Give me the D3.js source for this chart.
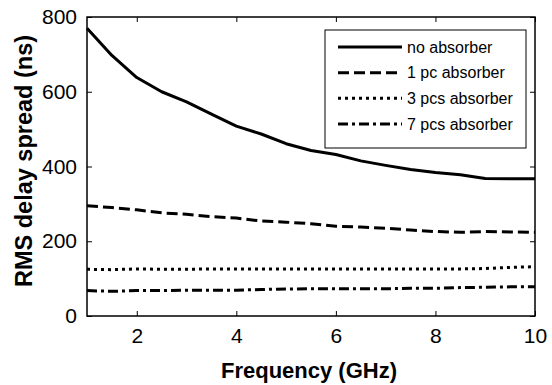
<!DOCTYPE html>
<html>
<head>
<meta charset="utf-8">
<script src="https://cdn.jsdelivr.net/npm/d3@7"></script>
<style>
  body { margin: 0; background: #fff; }
  text { font-family: "Liberation Sans", Arial, Helvetica, sans-serif; }
</style>
</head>
<body>
<div id="chart"></div>
<script>
// Data
var freq = [1, 1.5, 2, 2.5, 3, 3.5, 4, 4.5, 5, 5.5, 6, 6.5, 7, 7.5, 8, 8.5, 9, 9.5, 10];
var noAbsorber = [770, 697, 638, 600, 573, 540, 508, 487, 461, 443, 432, 415, 403, 392, 384, 378, 368, 367, 367];
var onePc      = [295, 290, 284, 276, 272, 266, 262, 254, 251, 247, 240, 238, 235, 230, 226, 224, 226, 225, 224];
var threePcs   = [125, 124, 126, 125, 125, 126, 126, 126, 126, 126, 126, 126, 126, 126, 126, 126, 127, 130, 132];
var sevenPcs   = [68, 66, 68, 68, 69, 69, 69, 71, 72, 73, 73, 73, 73, 74, 74, 76, 77, 78, 78];
var seriesNames = ["no absorber", "1 pc absorber", "3 pcs absorber", "7 pcs absorber"];
var xTicks = [2, 4, 6, 8, 10];
var yTicks = [0, 200, 400, 600, 800];

var W = 552, H = 385;
var plotL = 87, plotR = 535, plotT = 17, plotB = 316;

var svg = d3.select("#chart").append("svg")
    .attr("width", W)
    .attr("height", H);

var x = d3.scaleLinear().domain([1, 10]).range([plotL, plotR]);
var y = d3.scaleLinear().domain([0, 800]).range([plotB, plotT]);

var dashes = [null, "11,5", "3,4", "10,4,3,4"];
var allSeries = [noAbsorber, onePc, threePcs, sevenPcs];

// plot lines
var line = d3.line()
    .x(function(d, i) { return x(freq[i]); })
    .y(function(d) { return y(d); });

allSeries.forEach(function(s, k) {
    svg.append("path")
        .attr("d", line(s))
        .attr("fill", "none")
        .attr("stroke", "#000")
        .attr("stroke-width", 3)
        .attr("stroke-linejoin", "round")
        .attr("stroke-dasharray", dashes[k]);
});

// axes (ticks inside, MATLAB style box)
var tickLen = 5;
svg.append("g")
    .attr("transform", "translate(0," + plotB + ")")
    .call(d3.axisBottom(x).tickValues(xTicks).tickSizeInner(-tickLen).tickSizeOuter(0).tickPadding(12))
    .call(styleAxis);
svg.append("g")
    .attr("transform", "translate(0," + plotT + ")")
    .call(d3.axisTop(x).tickValues(xTicks).tickSizeInner(-tickLen).tickSizeOuter(0).tickFormat(""))
    .call(styleAxis);
svg.append("g")
    .attr("transform", "translate(" + plotL + ",0)")
    .call(d3.axisLeft(y).tickValues(yTicks).tickSizeInner(-tickLen).tickSizeOuter(0).tickPadding(10))
    .call(styleAxis);
svg.append("g")
    .attr("transform", "translate(" + plotR + ",0)")
    .call(d3.axisRight(y).tickValues(yTicks).tickSizeInner(-tickLen).tickSizeOuter(0).tickFormat(""))
    .call(styleAxis);

function styleAxis(g) {
    g.select(".domain").remove();
    g.selectAll(".tick line").attr("stroke", "#000").attr("stroke-width", 1);
    g.selectAll(".tick text")
        .attr("fill", "#000")
        .style("font-size", "21px")
        .style("font-family", "'Liberation Sans', Arial, sans-serif");
}

svg.append("rect")
    .attr("x", plotL)
    .attr("y", plotT)
    .attr("width", plotR - plotL)
    .attr("height", plotB - plotT)
    .attr("fill", "none")
    .attr("stroke", "#000")
    .attr("stroke-width", 1.5);

// axis labels
svg.append("text")
    .attr("x", 309)
    .attr("y", 378)
    .attr("text-anchor", "middle")
    .style("font-size", "22px")
    .style("font-weight", "bold")
    .text("Frequency (GHz)");

svg.append("text")
    .attr("transform", "translate(32,161) rotate(-90)")
    .attr("text-anchor", "middle")
    .style("font-size", "23.5px")
    .style("font-weight", "bold")
    .text("RMS delay spread (ns)");

// legend
var lg = svg.append("g");
lg.append("rect")
    .attr("x", 325)
    .attr("y", 30)
    .attr("width", 201)
    .attr("height", 118)
    .attr("fill", "#fff")
    .attr("stroke", "#000")
    .attr("stroke-width", 1);

var rowY = d3.scalePoint().domain(seriesNames).range([47, 124]);
seriesNames.forEach(function(name, k) {
    lg.append("line")
        .attr("x1", 338)
        .attr("x2", 402)
        .attr("y1", rowY(name))
        .attr("y2", rowY(name))
        .attr("stroke", "#000")
        .attr("stroke-width", 3)
        .attr("stroke-dasharray", dashes[k]);
    lg.append("text")
        .attr("x", 407)
        .attr("y", rowY(name))
        .attr("dy", "0.35em")
        .style("font-size", "16px")
        .text(name);
});
</script>
</body>
</html>
